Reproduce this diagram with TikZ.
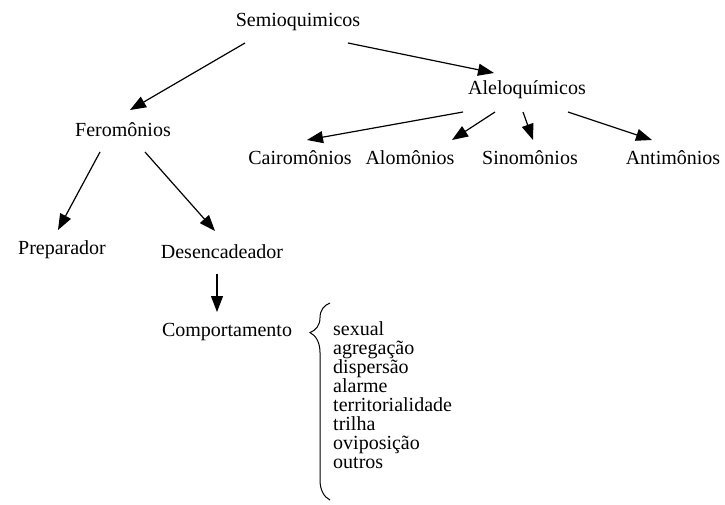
\documentclass[tikz,border=0pt]{standalone}
\usepackage{fontspec}
\setmainfont{Liberation Serif}
\usetikzlibrary{arrows.meta,decorations.pathreplacing}

\tikzset{
  termo/.style={inner sep=0pt, font=\fontsize{20}{19}\selectfont},
  seta/.style={-{Triangle[length=16pt,width=12pt]}, line width=1.2pt},
}

\begin{document}
\begin{tikzpicture}[x=1pt,y=1pt]
  \useasboundingbox (0,0) rectangle (725,504);
  % niveis da arvore
  \draw
    (298,482) node[termo] (sem){Semioquimicos}
    (527,414) node[termo] (ale){Aleloquímicos}
    (123,374) node[termo] (fer){Feromônios}
    (300,346) node[termo] (cai){Cairomônios}
    (410,346) node[termo] (alo){Alomônios}
    (530,346) node[termo] (sin){Sinomônios}
    (673,346) node[termo] (ant){Antimônios}
    (62,254) node[termo] (pre){Preparador}
    (222,252) node[termo] (des){Desencadeador}
    (227,172) node[termo] (com){Comportamento};
  \node[termo, anchor=west, align=left] (lista) at (333,109)
    {sexual\\agregação\\dispersão\\alarme\\territorialidade\\trilha\\oviposição\\outros};
  \begin{scope}[seta]
    \draw ([shift={(-53,-21)}]sem.center) to ([shift={(7,20)}]fer.center);
    \draw ([shift={(50,-21)}]sem.center) to ([shift={(-33,17)}]ale.center);
    \draw ([shift={(-64,-22)}]ale.center) to ([shift={(7,18)}]cai.center);
    \draw ([shift={(-32,-22)}]ale.center) to ([shift={(42,18)}]alo.center);
    \draw ([shift={(-4,-22)}]ale.center) to ([shift={(3,18)}]sin.center);
    \draw ([shift={(41,-22)}]ale.center) to ([shift={(-21,18)}]ant.center);
    \draw ([shift={(-23,-22)}]fer.center) to ([shift={(-4,20)}]pre.center);
    \draw ([shift={(22,-22)}]fer.center) to ([shift={(-7,21)}]des.center);
    \draw ([shift={(-5,-22)}]des.center) to ([shift={(-10,20)}]com.center);
  \end{scope}
  % chave dos tipos de comportamento
  \draw[line width=1pt, decorate, decoration={brace, amplitude=20pt, aspect=0.85}]
    (330,4) -- (330,201);
\end{tikzpicture}
\end{document}
